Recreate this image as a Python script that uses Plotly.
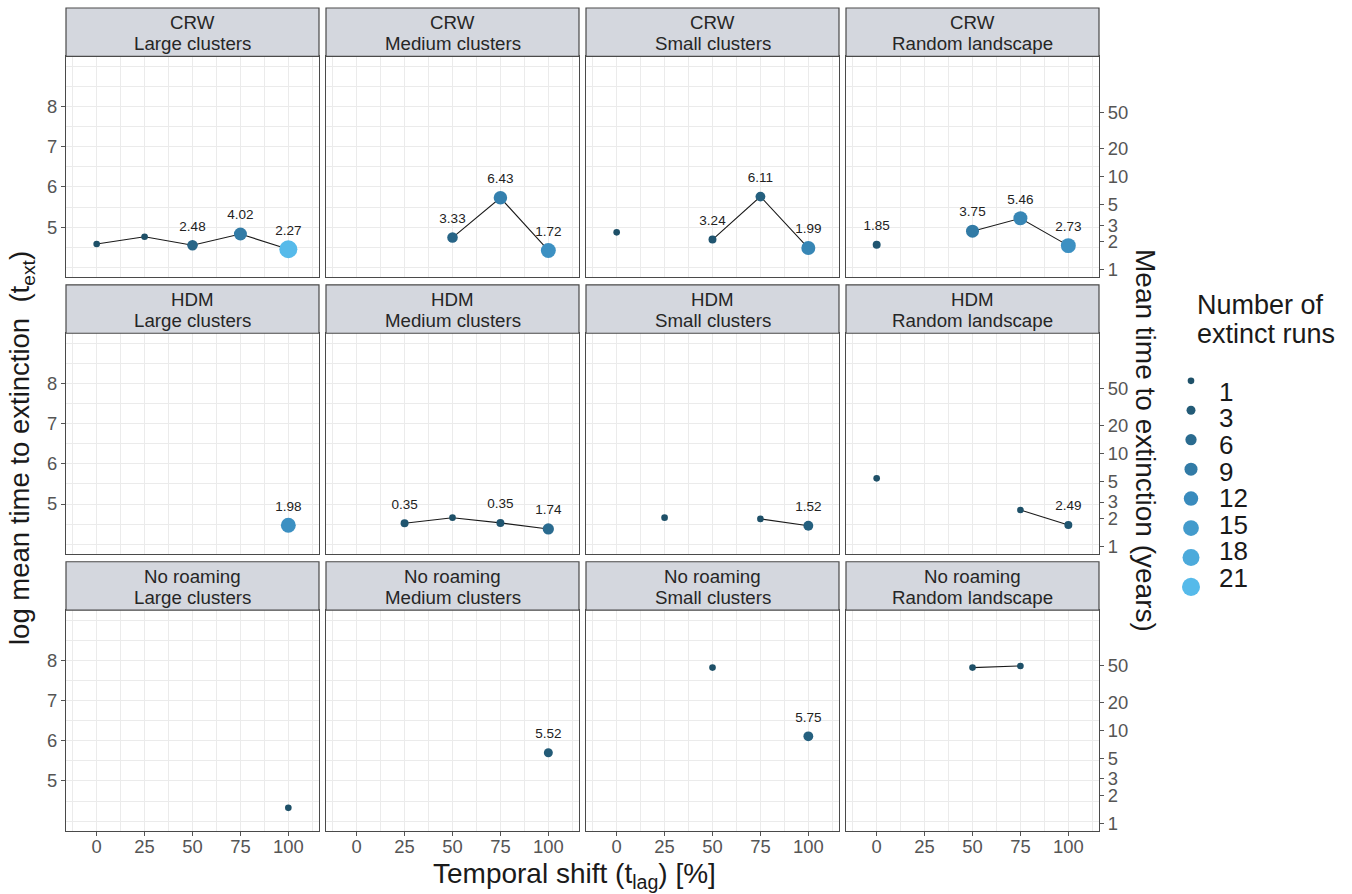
import math
import plotly.graph_objects as go

W, H = 1352, 894

# ---- data -----------------------------------------------------------------
shift = [0, 25, 50, 75, 100]                      # temporal shift t_lag [%]
movement_models = ["CRW", "HDM", "No roaming"]
landscapes = ["Large clusters", "Medium clusters", "Small clusters", "Random landscape"]

# log mean time to extinction, one row of shifts per landscape (None = no extinct run)
crw_log_t = [
    [4.58, 4.76, 4.55, 4.83, 4.45],
    [None, None, 4.74, 5.73, 4.42],
    [4.87, None, 4.69, 5.76, 4.48],
    [4.56, None, 4.90, 5.22, 4.54],
]
hdm_log_t = [
    [None, None, None, None, 4.47],
    [None, 4.52, 4.66, 4.53, 4.38],
    [None, 4.66, None, 4.63, 4.46],
    [5.64, None, None, 4.85, 4.48],
]
noroam_log_t = [
    [None, None, None, None, 4.33],
    [None, None, None, None, 5.70],
    [None, None, 7.82, None, 6.11],
    [None, None, 7.82, 7.86, None],
]

# number of extinct runs
crw_runs = [
    [1, 1, 5, 9, 21],
    [None, None, 5, 10, 13],
    [1, None, 2, 4, 11],
    [2, None, 9, 11, 13],
]
hdm_runs = [
    [None, None, None, None, 13],
    [None, 2, 1, 2, 6],
    [None, 1, None, 1, 4],
    [1, None, None, 1, 2],
]
noroam_runs = [
    [None, None, None, None, 1],
    [None, None, None, None, 3],
    [None, None, 1, None, 4],
    [None, None, 1, 1, None],
]

# standard deviation printed above the points
crw_sd = [
    [None, None, 2.48, 4.02, 2.27],
    [None, None, 3.33, 6.43, 1.72],
    [None, None, 3.24, 6.11, 1.99],
    [1.85, None, 3.75, 5.46, 2.73],
]
hdm_sd = [
    [None, None, None, None, 1.98],
    [None, 0.35, None, 0.35, 1.74],
    [None, None, None, None, 1.52],
    [None, None, None, None, 2.49],
]
noroam_sd = [
    [None, None, None, None, None],
    [None, None, None, None, 5.52],
    [None, None, None, None, 5.75],
    [None, None, None, None, None],
]

run_breaks = [1, 3, 6, 9, 12, 15, 18, 21]
year_ticks = [1, 2, 3, 5, 10, 20, 50]
weeks_per_year = 52

# ---- styling helpers -------------------------------------------------------
FONT = "Liberation Sans, Arial, Helvetica, sans-serif"
GRID = "#EBEBEB"
BORDER = "#4A4A4A"
TICKCOL = "#555555"
STRIP_FILL = "#D4D7DE"

RUN_MIN, RUN_MAX = 1, 21
COLOUR_STOPS = [(1, (30, 80, 104)), (12, (57, 139, 189)), (21, (86, 186, 234))]


def run_colour(n):
    for (n0, c0), (n1, c1) in zip(COLOUR_STOPS[:-1], COLOUR_STOPS[1:]):
        if n <= n1:
            t = (n - n0) / (n1 - n0)
            rgb = [round(a + (b - a) * t) for a, b in zip(c0, c1)]
            return "rgb({},{},{})".format(*rgb)
    return "rgb({},{},{})".format(*COLOUR_STOPS[-1][1])


def run_size(n):
    # area scale: sqrt(n) mapped linearly to size range 2..6 (mm), then to px
    frac = (math.sqrt(n) - math.sqrt(RUN_MIN)) / (math.sqrt(RUN_MAX) - math.sqrt(RUN_MIN))
    s = 2 + 4 * frac
    return 2.845 * s + 0.95


# panel geometry (pixels)
col_left = [66, 326, 586, 846]
col_w = 253
panel_top = [56.5, 334, 611.5]
panel_h = 221.5
strip_h = 48.5
Y_RANGE = [3.75, 9.25]
X_RANGE = [-16, 116]
LABEL_NUDGE = 0.45


def px(x):
    return x / W


def py(y):
    return 1 - y / H


fig = go.Figure()

rows = [
    (crw_log_t, crw_runs, crw_sd),
    (hdm_log_t, hdm_runs, hdm_sd),
    (noroam_log_t, noroam_runs, noroam_sd),
]

layout_axes = {}
shapes = []
annotations = []

for r, (logs, runs, sds) in enumerate(rows):
    for c in range(4):
        k = r * 4 + c + 1
        xa = "x" if k == 1 else f"x{k}"
        ya = "y" if k == 1 else f"y{k}"

        # connecting line
        fig.add_trace(go.Scatter(
            x=shift, y=logs[c], mode="lines", connectgaps=False,
            line=dict(color="#1a1a1a", width=1.1),
            xaxis=xa, yaxis=ya, showlegend=False, hoverinfo="skip"))

        # points, sized and coloured by number of extinct runs
        px_, py_, pn = [], [], []
        for x, y, n in zip(shift, logs[c], runs[c]):
            if y is not None:
                px_.append(x)
                py_.append(y)
                pn.append(n)
        if px_:
            fig.add_trace(go.Scatter(
                x=px_, y=py_, mode="markers",
                marker=dict(size=[run_size(n) for n in pn],
                            color=[run_colour(n) for n in pn],
                            line=dict(width=0), opacity=1),
                xaxis=xa, yaxis=ya, showlegend=False,
                hovertext=[f"n = {n}" for n in pn], hoverinfo="x+y+text"))

        # sd labels
        lx, ly, lt = [], [], []
        for x, y, s in zip(shift, logs[c], sds[c]):
            if s is not None and y is not None:
                lx.append(x)
                ly.append(y + LABEL_NUDGE)
                lt.append(f"{s:.2f}")
        if lx:
            fig.add_trace(go.Scatter(
                x=lx, y=ly, text=lt, mode="text", textposition="middle center",
                textfont=dict(family=FONT, size=13.5, color="#222222"),
                xaxis=xa, yaxis=ya, showlegend=False, hoverinfo="skip"))

        left = col_left[c]
        top = panel_top[r]
        bottom_row = r == 2
        first_col = c == 0

        layout_axes["xaxis" if k == 1 else f"xaxis{k}"] = dict(
            domain=[px(left), px(left + col_w)], anchor=ya, range=X_RANGE,
            tickvals=shift, ticktext=[str(v) for v in shift],
            showticklabels=bottom_row, ticks="outside" if bottom_row else "",
            ticklen=4, tickwidth=1.1, tickcolor=TICKCOL, ticklabelstandoff=-5,
            tickfont=dict(family=FONT, size=18.4, color=TICKCOL),
            showgrid=True, gridcolor=GRID, gridwidth=1.2,
            minor=dict(tickvals=[-12.5, 12.5, 37.5, 62.5, 87.5, 112.5],
                       showgrid=True, gridcolor=GRID, gridwidth=0.7, ticks=""),
            zeroline=False, showline=True, mirror=True,
            linecolor=BORDER, linewidth=1.2, fixedrange=True)

        layout_axes["yaxis" if k == 1 else f"yaxis{k}"] = dict(
            domain=[py(top + panel_h), py(top)], anchor=xa, range=Y_RANGE,
            tickvals=[5, 6, 7, 8], ticktext=["5", "6", "7", "8"],
            showticklabels=first_col, ticks="outside" if first_col else "",
            ticklen=4, tickwidth=1.1, tickcolor=TICKCOL,
            tickfont=dict(family=FONT, size=18.4, color=TICKCOL),
            showgrid=True, gridcolor=GRID, gridwidth=1.2,
            minor=dict(tickvals=[4, 4.5, 5.5, 6.5, 7.5, 8.5, 9],
                       showgrid=True, gridcolor=GRID, gridwidth=0.7, ticks=""),
            zeroline=False, showline=True, mirror=True,
            linecolor=BORDER, linewidth=1.2, fixedrange=True)

        # facet strip
        s_top = top - strip_h
        shapes.append(dict(type="rect", xref="paper", yref="paper",
                           x0=px(left), x1=px(left + col_w), y0=py(top), y1=py(s_top),
                           fillcolor=STRIP_FILL, line=dict(color=BORDER, width=1.2),
                           layer="above"))
        annotations.append(dict(text=movement_models[r], x=px(left + col_w / 2), y=py(s_top + 14.8),
                                xref="paper", yref="paper", showarrow=False,
                                xanchor="center", yanchor="middle",
                                font=dict(family=FONT, size=18.7, color="#262626")))
        annotations.append(dict(text=landscapes[c], x=px(left + col_w / 2), y=py(s_top + 35.8),
                                xref="paper", yref="paper", showarrow=False,
                                xanchor="center", yanchor="middle",
                                font=dict(family=FONT, size=18.7, color="#262626")))

    # secondary axis: mean time to extinction in years
    k_main = r * 4 + 4
    k_sec = 13 + r
    fig.add_trace(go.Scatter(x=[None], y=[None], xaxis=f"x{k_main}", yaxis=f"y{k_sec}",
                             showlegend=False, hoverinfo="skip"))
    layout_axes[f"yaxis{k_sec}"] = dict(
        overlaying=f"y{k_main}", anchor=f"x{k_main}", side="right", range=Y_RANGE,
        tickvals=[math.log(v * weeks_per_year) for v in year_ticks],
        ticktext=[str(v) for v in year_ticks],
        ticks="outside", ticklen=4, tickwidth=1.1, tickcolor=TICKCOL,
        tickfont=dict(family=FONT, size=18.4, color=TICKCOL),
        showgrid=False, zeroline=False, showline=False, fixedrange=True)

# ---- legend (size + colour of extinct runs) ---------------------------------
LEG_X0, LEG_X1, LEG_Y0, LEG_Y1 = 1170, 1352, 360, 610
key_y = [381.7 + 29.5 * i for i in range(len(run_breaks))]
fig.add_trace(go.Scatter(
    x=[1191] * len(run_breaks), y=key_y, mode="markers",
    marker=dict(size=[run_size(n) for n in run_breaks],
                color=[run_colour(n) for n in run_breaks],
                line=dict(width=0), opacity=1),
    xaxis="x13", yaxis="y16", showlegend=False, hoverinfo="skip"))
layout_axes["xaxis13"] = dict(domain=[px(LEG_X0), px(LEG_X1)], range=[LEG_X0, LEG_X1],
                              anchor="y16", visible=False, fixedrange=True)
layout_axes["yaxis16"] = dict(domain=[py(LEG_Y1), py(LEG_Y0)], range=[LEG_Y1, LEG_Y0],
                              anchor="x13", visible=False, fixedrange=True)

for i, n in enumerate(run_breaks):
    annotations.append(dict(text=str(n), x=px(1217), y=py(392.7 + 26.65 * i),
                            xref="paper", yref="paper", showarrow=False,
                            xanchor="left", yanchor="middle",
                            font=dict(family=FONT, size=26, color="#1a1a1a")))
annotations.append(dict(text="Number of", x=px(1195), y=py(306), xref="paper", yref="paper",
                        showarrow=False, xanchor="left", yanchor="middle",
                        font=dict(family=FONT, size=27, color="#1a1a1a")))
annotations.append(dict(text="extinct runs", x=px(1195), y=py(335), xref="paper", yref="paper",
                        showarrow=False, xanchor="left", yanchor="middle",
                        font=dict(family=FONT, size=27, color="#1a1a1a")))

# ---- axis titles ---------------------------------------------------------------
annotations.append(dict(text="Temporal shift (t<sub>lag</sub>) [%]", x=px(574), y=py(877),
                        xref="paper", yref="paper", showarrow=False,
                        xanchor="center", yanchor="middle",
                        font=dict(family=FONT, size=28, color="#1a1a1a")))
annotations.append(dict(text="log mean time to extinction\u00a0 (t<sub>ext</sub>)",
                        x=px(22), y=py(449), xref="paper", yref="paper", showarrow=False,
                        xanchor="center", yanchor="middle", textangle=-90,
                        font=dict(family=FONT, size=27.5, color="#1a1a1a")))
annotations.append(dict(text="Mean time to extinction (years)",
                        x=px(1146), y=py(441), xref="paper", yref="paper", showarrow=False,
                        xanchor="center", yanchor="middle", textangle=90,
                        font=dict(family=FONT, size=28, color="#1a1a1a")))

fig.update_layout(
    width=W, height=H,
    margin=dict(l=0, r=0, t=0, b=0),
    paper_bgcolor="white", plot_bgcolor="rgba(0,0,0,0)",
    showlegend=False, shapes=shapes, annotations=annotations,
    font=dict(family=FONT),
    **layout_axes)

fig.write_html("out.html")
